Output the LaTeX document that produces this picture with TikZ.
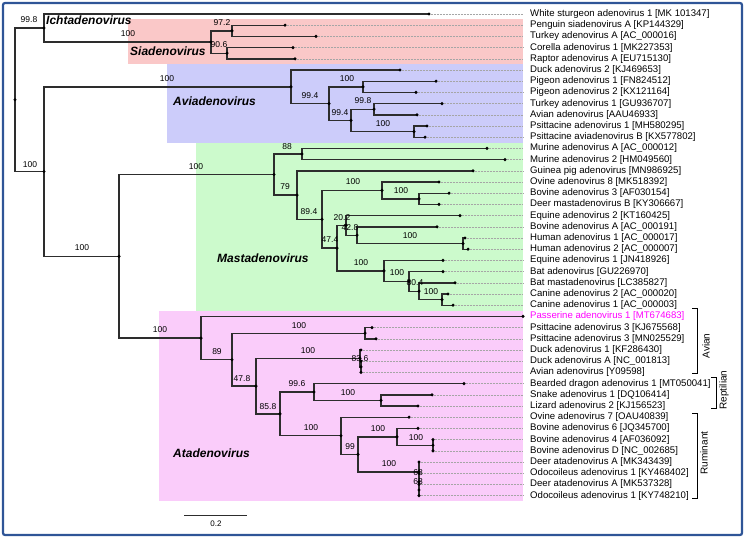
\documentclass[tikz,border=0pt]{standalone}
\usepackage{fontspec}
\setmainfont{Liberation Sans}
\usepackage{tikz}

\definecolor{siapink}{RGB}{250,200,200}
\definecolor{avilav}{RGB}{204,204,250}
\definecolor{mastgreen}{RGB}{204,250,204}
\definecolor{atadpink}{RGB}{250,204,250}
\definecolor{frameblue}{RGB}{47,85,151}
\definecolor{passer}{RGB}{255,0,255}
\definecolor{branchgray}{RGB}{45,45,45}

\tikzstyle{branch} = [draw=branchgray, line width=1.4pt]
\tikzstyle{leader} = [draw=black!35, densely dotted, line width=0.5pt]
\tikzstyle{leaf} = [anchor=west, inner sep=0pt, font=\fontsize{9.6}{11}\selectfont]
\tikzstyle{support} = [inner sep=0pt, font=\fontsize{8.5}{9}\selectfont]
\tikzstyle{cladename} = [anchor=west, inner sep=0pt, font=\fontsize{12}{14}\selectfont\bfseries\itshape]
\tikzstyle{hostname} = [rotate=90, inner sep=0pt, font=\fontsize{10}{12}\selectfont]
\tikzstyle{bracket} = [draw=black, line width=0.8pt]

\begin{document}
\begin{tikzpicture}[x=1pt, y=-1pt]
\useasboundingbox (0,0) rectangle (748,538);

% genus boxes
\fill[siapink] (128,19) rectangle (523,64);
\fill[avilav] (167,64) rectangle (523,143);
\fill[mastgreen] (196,143) rectangle (523,311);
\fill[atadpink] (159,311) rectangle (523,501);
\draw[frameblue, line width=2.2pt, rounded corners=2pt] (3,3) rectangle (742,535);

% tips, leaders and names
\foreach \i/\tx/\lab in {
  1/429/{White sturgeon adenovirus 1 [MK 101347]},
  2/285/{Penguin siadenovirus A [KP144329]},
  3/316/{Turkey adenovirus A [AC\_000016]},
  4/293/{Corella adenovirus 1 [MK227353]},
  5/295/{Raptor adenovirus A [EU715130]},
  6/400/{Duck adenovirus 2 [KJ469653]},
  7/436/{Pigeon adenovirus 1 [FN824512]},
  8/416/{Pigeon adenovirus 2 [KX121164]},
  9/442/{Turkey adenovirus 1 [GU936707]},
  10/417/{Avian adenovirus [AAU46933]},
  11/427/{Psittacine adenovirus 1 [MH580295]},
  12/425/{Psittacine aviadenovirus B [KX577802]},
  13/487/{Murine adenovirus A [AC\_000012]},
  14/505/{Murine adenovirus 2 [HM049560]},
  15/473/{Guinea pig adenovirus [MN986925]},
  16/439/{Ovine adenovirus 8 [MK518392]},
  17/449/{Bovine adenovirus 3 [AF030154]},
  18/439/{Deer mastadenovirus B [KY306667]},
  19/460/{Equine adenovirus 2 [KT160425]},
  20/437/{Bovine adenovirus A [AC\_000191]},
  21/465/{Human adenovirus 1 [AC\_000017]},
  22/468/{Human adenovirus 2 [AC\_000007]},
  23/443/{Equine adenovirus 1 [JN418926]},
  24/443/{Bat adenovirus [GU226970]},
  25/455/{Bat mastadenovirus [LC385827]},
  26/448/{Canine adenovirus 2 [AC\_000020]},
  27/453/{Canine adenovirus 1 [AC\_000003]},
  28/523/{\color{passer}Passerine adenovirus 1 [MT674683]},
  29/372/{Psittacine adenovirus 3 [KJ675568]},
  30/376/{Psittacine adenovirus 3 [MN025529]},
  31/361/{Duck adenovirus 1 [KF286430]},
  32/361/{Duck adenovirus A [NC\_001813]},
  33/361/{Avian adenovirus [Y09598]},
  34/464/{Bearded dragon adenovirus 1 [MT050041]},
  35/432/{Snake adenovirus 1 [DQ106414]},
  36/418/{Lizard adenovirus 2 [KJ156523]},
  37/409/{Ovine adenovirus 7 [OAU40839]},
  38/418/{Bovine adenovirus 6 [JQ345700]},
  39/433/{Bovine adenovirus 4 [AF036092]},
  40/433/{Bovine adenovirus D [NC\_002685]},
  41/419/{Deer atadenovirus A [MK343439]},
  42/419/{Odocoileus adenovirus 1 [KY468402]},
  43/419/{Deer atadenovirus A [MK537328]},
  44/419/{Odocoileus adenovirus 1 [KY748210]}} {
  \pgfmathsetmacro{\ty}{14+(\i-1)*11.2}
  \coordinate (t\i) at (\tx,\ty);
  \coordinate (e\i) at (523,\ty);
  \draw[leader] (t\i) -- (e\i);
  \node[leaf] (lab\i) at (530,\ty) {\lab};
}

% internal nodes
\coordinate (r0) at (15,99.75);
\coordinate (nI) at (44,28);
\coordinate (nS) at (211,42);
\coordinate (nS1) at (232,30.8);
\coordinate (nS2) at (227,53.2);
\coordinate (nB) at (44,171.5);
\coordinate (nAvi) at (291,86.8);
\coordinate (nA1) at (329,103.6);
\coordinate (nA2) at (363,86.8);
\coordinate (nA3) at (351,120.4);
\coordinate (nA4) at (374,109.2);
\coordinate (nA5) at (414,131.6);
\coordinate (nMA) at (119,256.3);
\coordinate (nM) at (274,174.5);
\coordinate (nM1) at (302,154);
\coordinate (nM2) at (297,195.05);
\coordinate (nM3) at (322,219.3);
\coordinate (nM4) at (382,190.4);
\coordinate (nM6) at (419,198.8);
\coordinate (nM5) at (337,248.15);
\coordinate (nM7) at (346,225.4);
\coordinate (nM9) at (357,235.2);
\coordinate (nM10) at (463,243.6);
\coordinate (nM8) at (384,270.9);
\coordinate (nM11) at (409,281.4);
\coordinate (nM12) at (419,291.2);
\coordinate (nM13) at (442,299.6);
\coordinate (nT) at (201,338.05);
\coordinate (nT1) at (232,359.7);
\coordinate (nT2) at (365,333.2);
\coordinate (nT3) at (256,386.15);
\coordinate (nT4) at (360,358.4);
\coordinate (nT6) at (361,366.8);
\coordinate (nT5) at (280,413.9);
\coordinate (nT7) at (314,392);
\coordinate (nT9) at (381,400.4);
\coordinate (nT8) at (341,435.75);
\coordinate (nT10) at (358,454.3);
\coordinate (nT11) at (397,436.8);
\coordinate (nT13) at (433,445.2);
\coordinate (nT12) at (419,471.8);
\coordinate (nT14) at (419,481.6);
\coordinate (nT15) at (419,490);

% branches
\foreach \p/\c in {r0/nI, r0/nB, nI/t1, nI/nS, nS/nS1, nS/nS2, nS1/t2, nS1/t3,
  nS2/t4, nS2/t5, nB/nAvi, nB/nMA, nAvi/t6, nAvi/nA1, nA1/nA2, nA1/nA3,
  nA2/t7, nA2/t8, nA3/nA4, nA3/nA5, nA4/t9, nA4/t10, nA5/t11, nA5/t12,
  nMA/nM, nMA/nT, nM/nM1, nM/nM2, nM1/t13, nM1/t14, nM2/t15, nM2/nM3,
  nM3/nM4, nM3/nM5, nM4/t16, nM4/nM6, nM6/t17, nM6/t18, nM5/nM7, nM5/nM8,
  nM7/t19, nM7/nM9, nM9/t20, nM9/nM10, nM10/t21, nM10/t22, nM8/t23, nM8/nM11,
  nM11/t24, nM11/nM12, nM12/t25, nM12/nM13, nM13/t26, nM13/t27,
  nT/t28, nT/nT1, nT1/nT2, nT1/nT3, nT2/t29, nT2/t30, nT3/nT4, nT3/nT5,
  nT4/t31, nT4/nT6, nT6/t32, nT6/t33, nT5/nT7, nT5/nT8, nT7/t34, nT7/nT9,
  nT9/t35, nT9/t36, nT8/t37, nT8/nT10, nT10/nT11, nT10/nT12, nT11/t38, nT11/nT13,
  nT13/t39, nT13/t40, nT12/t41, nT12/nT14, nT14/t42, nT14/nT15, nT15/t43, nT15/t44}
  \draw[branch] (\p) |- (\c);

% node dots
\foreach \n in {r0, nI, nS, nS1, nS2, nB, nAvi, nA1, nA2, nA3, nA4, nA5, nMA, nM, nM1,
  nM2, nM3, nM4, nM6, nM5, nM7, nM9, nM10, nM8, nM11, nM12, nM13, nT, nT1, nT2, nT3,
  nT4, nT6, nT5, nT7, nT9, nT8, nT10, nT11, nT13, nT12, nT14, nT15}
  \fill[black] (\n) circle (1.7);
\foreach \i in {1,...,44}
  \fill[black] (t\i) circle (1.7);

% support values
\foreach \k/\sx/\sy/\sv in {1/29/20/99.8, 2/128/34/100, 3/222/23/97.2, 4/219/45/90.6,
  5/30/165/100, 6/167/79/100, 7/310/96/99.4, 8/347/79/100, 9/340/113/99.4,
  10/363/101/99.8, 11/383/124/100, 12/82/248/100, 13/196/167/100, 14/287/147/88,
  15/285/187/79, 16/309/212/89.4, 17/353/182/100, 18/401/191/100, 19/342/218/20.2,
  20/350/228/42.8, 21/330/240/47.4, 22/410/236/100, 23/361/263/100, 24/397/273/100,
  25/415/283/80.4, 26/431/292/100, 27/160/330/100, 28/217/352/89, 29/299/326/100,
  30/242/379/47.8, 31/308/351/100, 32/360/359/83.6, 33/268/407/85.8, 34/297/384/99.6,
  35/348/393/100, 36/311/428/100, 37/350/447/99, 38/378/429/100, 39/416/438/100,
  40/389/464/100, 41/418/473/68, 42/418/482/63}
  \node[support] (s\k) at (\sx,\sy) {\sv};

% genus names
\node[cladename] (ichta) at (46,20) {Ichtadenovirus};
\node[cladename] (sia) at (130,51) {Siadenovirus};
\node[cladename] (avi) at (173,101) {Aviadenovirus};
\node[cladename] (mast) at (217,258) {Mastadenovirus};
\node[cladename] (atad) at (173,453) {Atadenovirus};

% host brackets
\coordinate (avtop) at (692,308);
\coordinate (avbot) at (692,373);
\draw[bracket] (avtop) -- ++(5,0) |- (avbot);
\node[hostname] (avlab) at (706,346) {Avian};
\coordinate (retop) at (711,377);
\coordinate (rebot) at (711,408);
\draw[bracket] (retop) -- ++(5,0) |- (rebot);
\node[hostname] (relab) at (724,390) {Reptilian};
\coordinate (rutop) at (692,413);
\coordinate (rubot) at (692,498);
\draw[bracket] (rutop) -- ++(5,0) |- (rubot);
\node[hostname] (rulab) at (704,453) {Ruminant};

% scale bar
\coordinate (sb1) at (184,515);
\coordinate (sb2) at (247,515);
\draw[branch, line width=1pt] (sb1) -- (sb2);
\node[support, font=\fontsize{8}{9}\selectfont] (sblab) at (216,524) {0.2};
\end{tikzpicture}
\end{document}
